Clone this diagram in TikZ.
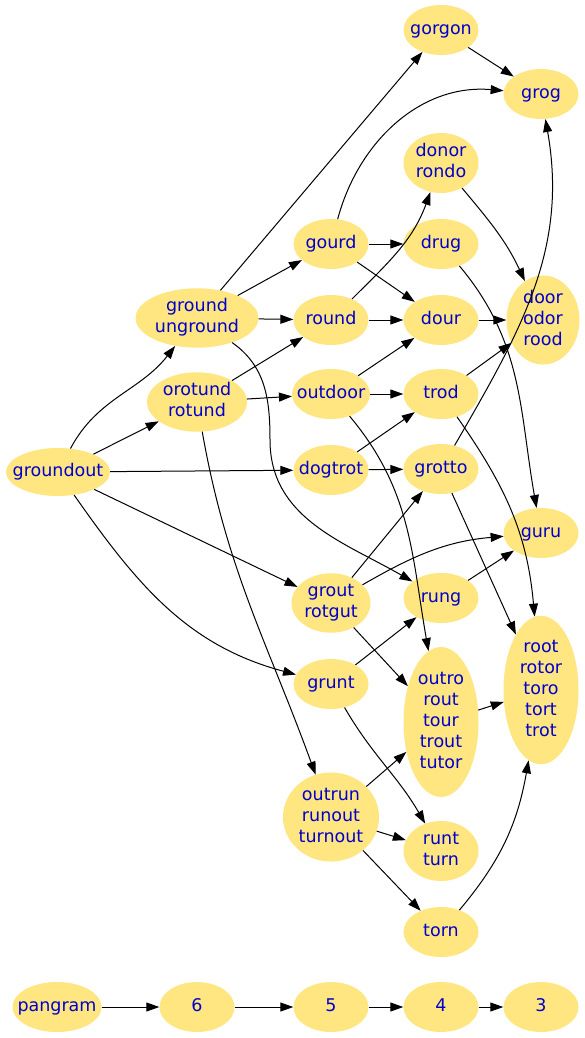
\documentclass[tikz,border=0pt]{standalone}
\usepackage{fontspec}
\setmainfont{DejaVu Sans}
\usetikzlibrary{shapes.geometric,arrows.meta}
\definecolor{wordfill}{HTML}{FFE680}
\definecolor{wordtext}{HTML}{0000CC}
% text box of zero width, so the ellipse keeps its given size
\newcommand{\wlines}[1]{\makebox[0pt]{\begin{tabular}{@{}c@{}}#1\end{tabular}}}

\begin{document}
\begin{tikzpicture}[
    x=1pt, y=1pt,
    word/.style={ellipse, fill=wordfill, text=wordtext, inner sep=0pt, minimum width=75pt, minimum height=50pt, font=\fontsize{17.5}{21}\selectfont},
    arrow/.style={-{Triangle[length=13pt,width=9pt]}, line width=1pt, color=black}
]
    \useasboundingbox (0,0) rectangle (585,-1038);
    % Anagram graph reconstruction
    \node[word, minimum width=104pt, minimum height=48pt] (groundout) at (58,-472) {\wlines{groundout}};
    \node[word, minimum width=123pt, minimum height=59pt] (ground) at (197,-318) {\wlines{ground\\unground}};
    \node[word, minimum width=100pt, minimum height=59pt] (orotund) at (197,-402) {\wlines{orotund\\rotund}};
    \node[word] (gorgon) at (441,-30) {\wlines{gorgon}};
    \node[word] (grog) at (541,-94) {\wlines{grog}};
    \node[word, minimum height=60pt] (donor) at (441,-163) {\wlines{donor\\rondo}};
    \node[word] (gourd) at (331,-244) {\wlines{gourd}};
    \node[word] (drug) at (441,-244) {\wlines{drug}};
    \node[word] (round) at (331,-320) {\wlines{round}};
    \node[word] (dour) at (441,-320) {\wlines{dour}};
    \node[word, minimum width=73pt, minimum height=89pt] (door) at (543,-320) {\wlines{door\\odor\\rood}};
    \node[word, minimum width=78pt] (outdoor) at (331,-394) {\wlines{outdoor}};
    \node[word] (trod) at (441,-394) {\wlines{trod}};
    \node[word] (dogtrot) at (331,-470) {\wlines{dogtrot}};
    \node[word] (grotto) at (441,-469) {\wlines{grotto}};
    \node[word] (guru) at (541,-533) {\wlines{guru}};
    \node[word, minimum width=79pt, minimum height=59pt] (grout) at (331,-603) {\wlines{grout\\rotgut}};
    \node[word] (rung) at (441,-598) {\wlines{rung}};
    \node[word] (grunt) at (331,-684) {\wlines{grunt}};
    \node[word, minimum height=150pt] (outro) at (441,-722) {\wlines{outro\\rout\\tour\\trout\\tutor}};
    \node[word, minimum height=148pt] (root) at (541,-690) {\wlines{root\\rotor\\toro\\tort\\trot}};
    \node[word, minimum width=96pt, minimum height=85pt] (outrun) at (331,-817) {\wlines{outrun\\runout\\turnout}};
    \node[word, minimum height=60pt] (runt) at (441,-851) {\wlines{runt\\turn}};
    \node[word] (torn) at (441,-932) {\wlines{torn}};

    \node[word, minimum width=89pt] (pangram) at (57,-1007) {\wlines{pangram}};
    \node[word] (six) at (197,-1007) {\wlines{6}};
    \node[word] (five) at (331,-1007) {\wlines{5}};
    \node[word] (four) at (441,-1007) {\wlines{4}};
    \node[word] (three) at (541,-1007) {\wlines{3}};

    \draw[arrow] (groundout) to[out=62, in=232] (ground);
    \draw[arrow] (groundout) -- (orotund);
    \draw[arrow] (groundout) -- (dogtrot);
    \draw[arrow] (groundout) -- (grout);
    \draw[arrow] (groundout) to[out=-55, in=165] (grunt);
    \draw[arrow] (ground) -- (gorgon);
    \draw[arrow] (ground) -- (gourd);
    \draw[arrow] (ground) -- (round);
    \draw[arrow] (ground) to[out=-35, in=90] (270,-440) to[out=-90, in=150] (rung);
    \draw[arrow] (orotund) -- (round);
    \draw[arrow] (orotund) -- (outdoor);
    \draw[arrow] (orotund) to[out=-80, in=110] (outrun);
    \draw[arrow] (gourd) to[out=75, in=175] (grog);
    \draw[arrow] (gourd) -- (drug);
    \draw[arrow] (gourd) -- (dour);
    \draw[arrow] (round) to[out=45, in=250] (donor);
    \draw[arrow] (round) -- (dour);
    \draw[arrow] (outdoor) -- (dour);
    \draw[arrow] (outdoor) -- (trod);
    \draw[arrow] (outdoor) to[out=-50, in=100] (outro);
    \draw[arrow] (dogtrot) -- (trod);
    \draw[arrow] (dogtrot) -- (grotto);
    \draw[arrow] (gorgon) -- (grog);
    \draw[arrow] (donor) to[out=-50, in=115] (door);
    \draw[arrow] (drug) to[out=-50, in=100] (guru);
    \draw[arrow] (dour) -- (door);
    \draw[arrow] (trod) -- (door);
    \draw[arrow] (trod) to[out=-55, in=95] (root);
    \draw[arrow] (grotto) to[out=60, in=-80] (grog);
    \draw[arrow] (grotto) -- (root);
    \draw[arrow] (grout) -- (grotto);
    \draw[arrow] (grout) to[out=30, in=185] (guru);
    \draw[arrow] (grout) -- (outro);
    \draw[arrow] (rung) -- (guru);
    \draw[arrow] (grunt) -- (rung);
    \draw[arrow] (grunt) to[out=-60, in=120] (runt);
    \draw[arrow] (outro) -- (root);
    \draw[arrow] (outrun) -- (outro);
    \draw[arrow] (outrun) -- (runt);
    \draw[arrow] (outrun) -- (torn);
    \draw[arrow] (torn) to[out=50, in=-100] (root);

    \draw[arrow] (pangram) -- (six);
    \draw[arrow] (six) -- (five);
    \draw[arrow] (five) -- (four);
    \draw[arrow] (four) -- (three);
\end{tikzpicture}
\end{document}
